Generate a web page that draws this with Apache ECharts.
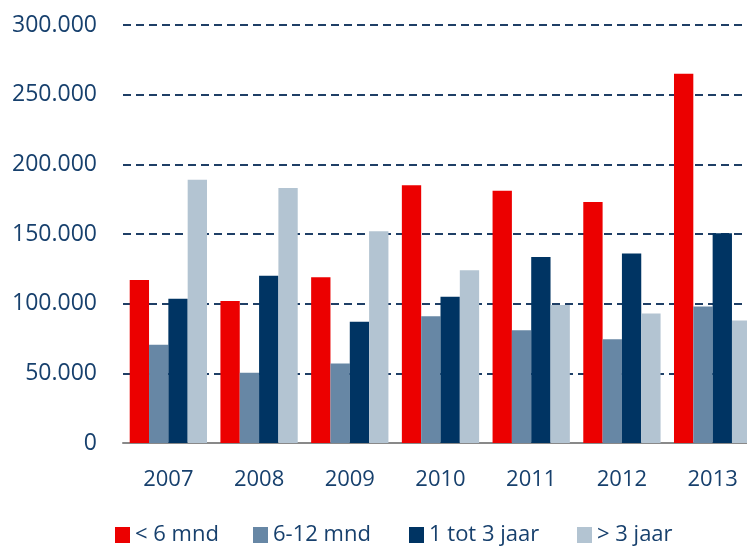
<!DOCTYPE html>
<html>
<head>
<meta charset="utf-8">
<script src="https://cdn.jsdelivr.net/npm/echarts@6/dist/echarts.min.js"></script>
<style>
  html, body { margin: 0; padding: 0; background: #fff; }
  #chart { width: 747px; height: 546px; }
</style>
</head>
<body>
<div id="chart"></div>
<script>
// data
var years = ["2007", "2008", "2009", "2010", "2011", "2012", "2013"];
var seriesNames = ["< 6 mnd", "6-12 mnd", "1 tot 3 jaar", "> 3 jaar"];
var lt6 = [117000, 102000, 119000, 185000, 181000, 173000, 265000];
var m6to12 = [70500, 50500, 57000, 91000, 81000, 74500, 98000];
var y1to3 = [103500, 120000, 87000, 105000, 133500, 136000, 150500];
var gt3 = [189000, 183000, 152000, 124000, 99000, 93000, 88000];
var yTicks = { min: 0, max: 300000, interval: 50000 };

var colors = ["#EC0000", "#6787A5", "#003463", "#B3C4D2"];
var legendLeft = [115, 253, 409, 577];
var textColor = "#17406D";
var font = "Open Sans";

function fmt(v) {
  if (v === 0) return "0";
  return String(v).replace(/\B(?=(\d{3})+(?!\d))/g, ".");
}

function bar(i, data) {
  return {
    name: seriesNames[i],
    type: "bar",
    data: data,
    barGap: 0,
    barCategoryGap: "14.8%",
    itemStyle: { color: colors[i] }
  };
}

// one legend per item so each sits where it does in the original
var legends = seriesNames.map(function (n, i) {
  return {
    data: [n],
    left: legendLeft[i],
    top: 524,
    padding: 0,
    icon: "rect",
    itemWidth: 15,
    itemHeight: 16,
    textStyle: { color: textColor, fontSize: 22, lineHeight: 22, fontFamily: font }
  };
});

var chart = echarts.init(document.getElementById("chart"));
chart.setOption({
  animation: false,
  textStyle: { fontFamily: font },
  grid: { left: 123, top: 25, bottom: 103, width: 635, outerBoundsMode: "none" },
  legend: legends,
  xAxis: {
    type: "category",
    data: years,
    axisTick: { show: false },
    axisLine: { lineStyle: { color: "#898989", width: 2 } },
    axisLabel: { color: textColor, fontSize: 22, lineHeight: 22, margin: 26, fontFamily: font }
  },
  yAxis: {
    type: "value",
    min: yTicks.min,
    max: yTicks.max,
    interval: yTicks.interval,
    axisLine: { show: false },
    axisTick: { show: false },
    axisLabel: { color: textColor, fontSize: 23, margin: 26, fontFamily: font, formatter: fmt },
    splitLine: { lineStyle: { color: "#1F3F66", width: 2, type: [8, 5] } }
  },
  series: [
    bar(0, lt6),
    bar(1, m6to12),
    bar(2, y1to3),
    bar(3, gt3)
  ]
});
</script>
</body>
</html>
